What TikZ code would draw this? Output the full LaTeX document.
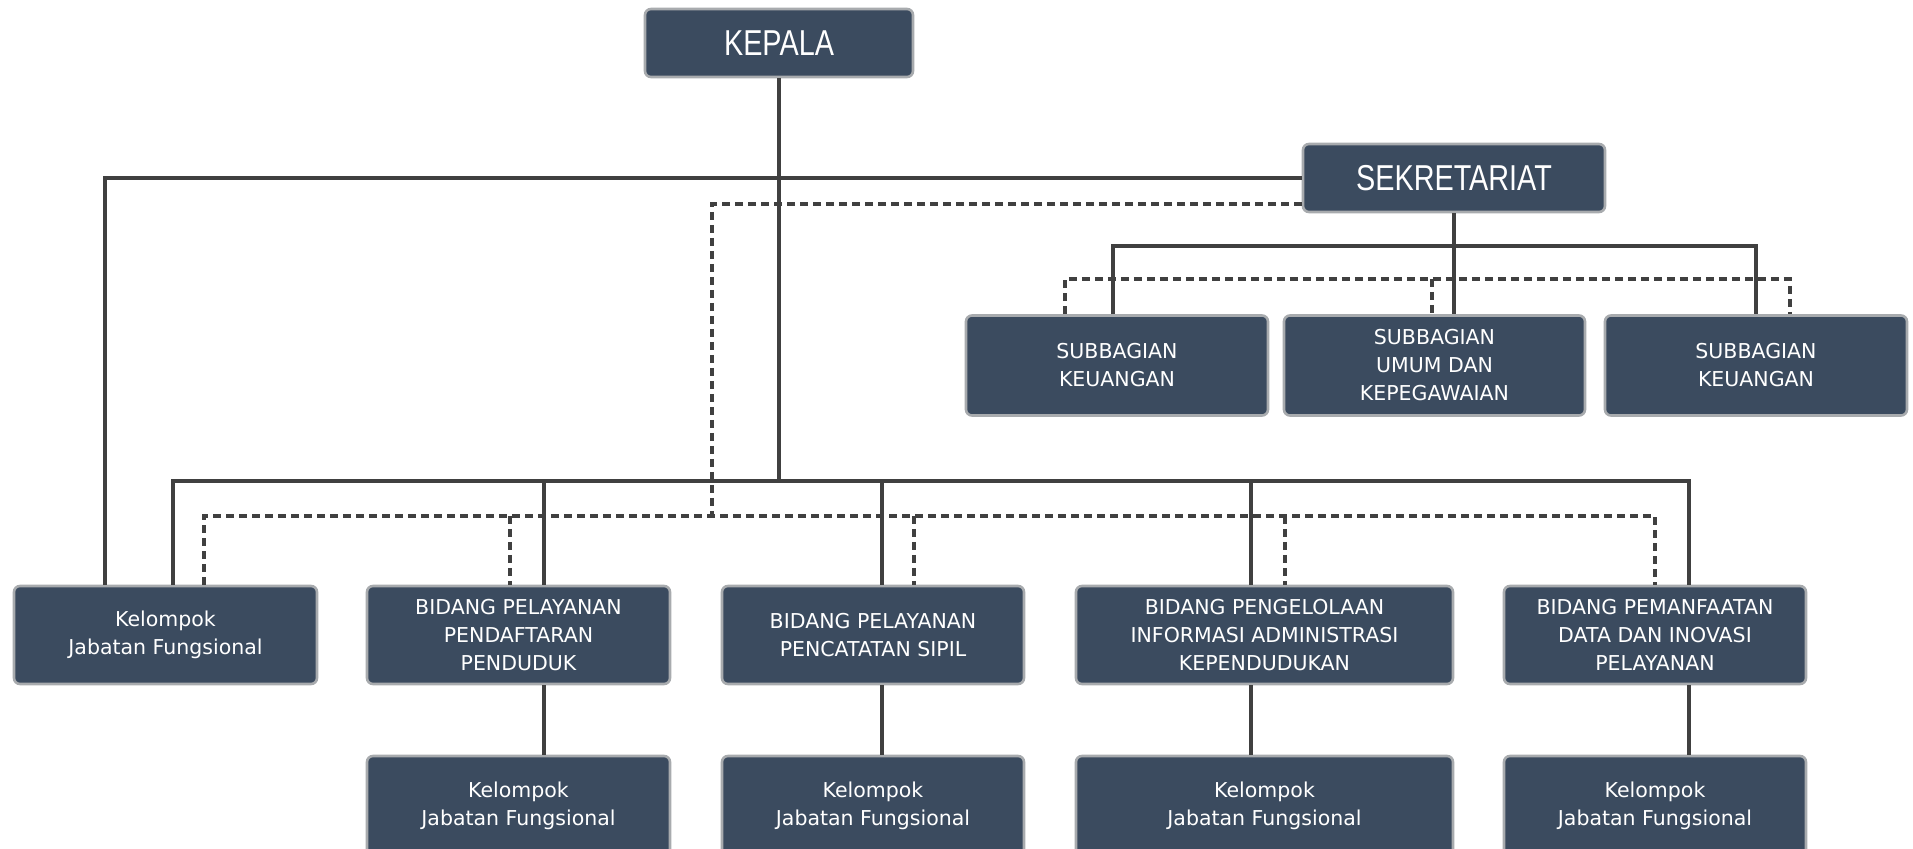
\documentclass[tikz,border=0pt]{standalone}
\usepackage{fontspec}
\setmainfont{DejaVu Sans}
\newfontfamily\bigfont[FakeStretch=0.8]{Liberation Sans}
\usetikzlibrary{calc}
\definecolor{boxfill}{HTML}{3B4B5F}
\definecolor{boxedge}{HTML}{A8ABAE}
\definecolor{linec}{HTML}{404040}
\begin{document}
\begin{tikzpicture}[x=0.5pt,y=-0.5pt,
  box/.style={draw=boxedge, line width=1.3pt, fill=boxfill, rounded corners=3pt,
    text=white, align=center, inner sep=0pt,
    font=\fontsize{10.25pt}{14pt}\selectfont},
  bigbox/.style={box, font=\bigfont\fontsize{18pt}{20pt}\selectfont},
  conn/.style={draw=linec, line width=2pt},
  dconn/.style={conn, dash pattern=on 4pt off 2.5pt}]
\useasboundingbox (0,0) rectangle (1913,849);
\clip (0,0) rectangle (1913,849);

% top
\node[bigbox, minimum width=134pt, minimum height=34pt] (kepala) at (779,43) {KEPALA};
\node[bigbox, minimum width=151pt, minimum height=34pt] (sek) at (1454,178) {SEKRETARIAT};

% subbagian
\node[box, minimum width=151pt, minimum height=50pt] (s1) at (1117,365.5) {SUBBAGIAN\\KEUANGAN};
\node[box, minimum width=150.5pt, minimum height=50pt] (s2) at (1434.5,365.5) {SUBBAGIAN\\UMUM DAN\\KEPEGAWAIAN};
\node[box, minimum width=151pt, minimum height=50pt] (s3) at (1756,365.5) {SUBBAGIAN\\KEUANGAN};

% row 1
\node[box, minimum width=151.5pt, minimum height=49pt] (k0) at (165.5,635) {Kelompok\\Jabatan Fungsional};
\node[box, minimum width=151.5pt, minimum height=49pt] (b1) at (518.5,635) {BIDANG PELAYANAN\\PENDAFTARAN\\PENDUDUK};
\node[box, minimum width=151pt, minimum height=49pt] (b2) at (873,635) {BIDANG PELAYANAN\\PENCATATAN SIPIL};
\node[box, minimum width=188.5pt, minimum height=49pt] (b3) at (1264.5,635) {BIDANG PENGELOLAAN\\INFORMASI ADMINISTRASI\\KEPENDUDUKAN};
\node[box, minimum width=151pt, minimum height=49pt] (b4) at (1655,635) {BIDANG PEMANFAATAN\\DATA DAN INOVASI\\PELAYANAN};

% row 2
\node[box, minimum width=151.5pt, minimum height=50pt] (j1) at (518.5,806) {Kelompok\\Jabatan Fungsional};
\node[box, minimum width=151pt, minimum height=50pt] (j2) at (873,806) {Kelompok\\Jabatan Fungsional};
\node[box, minimum width=188.5pt, minimum height=50pt] (j3) at (1264.5,806) {Kelompok\\Jabatan Fungsional};
\node[box, minimum width=151pt, minimum height=50pt] (j4) at (1655,806) {Kelompok\\Jabatan Fungsional};

% helper coordinates
\coordinate (busY) at (0,481);
\coordinate (dbusY) at (0,516);
\coordinate (x0) at (173,0);
\coordinate (x1) at (544,0);
\coordinate (x2) at (882,0);
\coordinate (x3) at (1251,0);
\coordinate (x4) at (1689,0);
\coordinate (dx0) at (204,0);
\coordinate (dx1) at (510,0);
\coordinate (dx2) at (914,0);
\coordinate (dx3) at (1285,0);
\coordinate (dx4) at (1655,0);
\coordinate (lx) at (105,0);
\coordinate (vx) at (712,0);
\coordinate (dsek) at (1302,204);
\coordinate (sbY) at (0,246);
\coordinate (dsbY) at (0,279);
\coordinate (sx1) at (1113,0);
\coordinate (dsx1) at (1065,0);
\coordinate (dsx2) at (1432,0);
\coordinate (dsx3) at (1790,0);

% solid connectors
\draw[conn] (kepala.south) -- (kepala.south |- busY);
\draw[conn] (x0 |- k0.north) -- (x0 |- busY) -- (x4 |- busY) -- (x4 |- b4.north);
\draw[conn] (x1 |- busY) -- (x1 |- b1.north);
\draw[conn] (x2 |- busY) -- (x2 |- b2.north);
\draw[conn] (x3 |- busY) -- (x3 |- b3.north);
\draw[conn] (sek.west) -- (lx |- sek.west) -- (lx |- k0.north);
\draw[conn] (x1 |- b1.south) -- (x1 |- j1.north);
\draw[conn] (x2 |- b2.south) -- (x2 |- j2.north);
\draw[conn] (x3 |- b3.south) -- (x3 |- j3.north);
\draw[conn] (x4 |- b4.south) -- (x4 |- j4.north);

% secretariat connectors
\draw[conn] (sek.south) -- (sek.south |- s2.north);
\draw[conn] (sx1 |- s1.north) -- (sx1 |- sbY) -- (s3.north |- sbY) -- (s3.north);

% dashed connectors
\draw[dconn] (dsek) -- (vx |- dsek) -- (vx |- dbusY);
\draw[dconn] (dx0 |- k0.north) -- (dx0 |- dbusY) -- (dx4 |- dbusY) -- (dx4 |- b4.north);
\draw[dconn] (dx1 |- dbusY) -- (dx1 |- b1.north);
\draw[dconn] (dx2 |- dbusY) -- (dx2 |- b2.north);
\draw[dconn] (dx3 |- dbusY) -- (dx3 |- b3.north);
\draw[dconn] (dsx1 |- s1.north) -- (dsx1 |- dsbY) -- (dsx3 |- dsbY) -- (dsx3 |- s3.north);
\draw[dconn] (dsx2 |- dsbY) -- (dsx2 |- s2.north);
\end{tikzpicture}
\end{document}
